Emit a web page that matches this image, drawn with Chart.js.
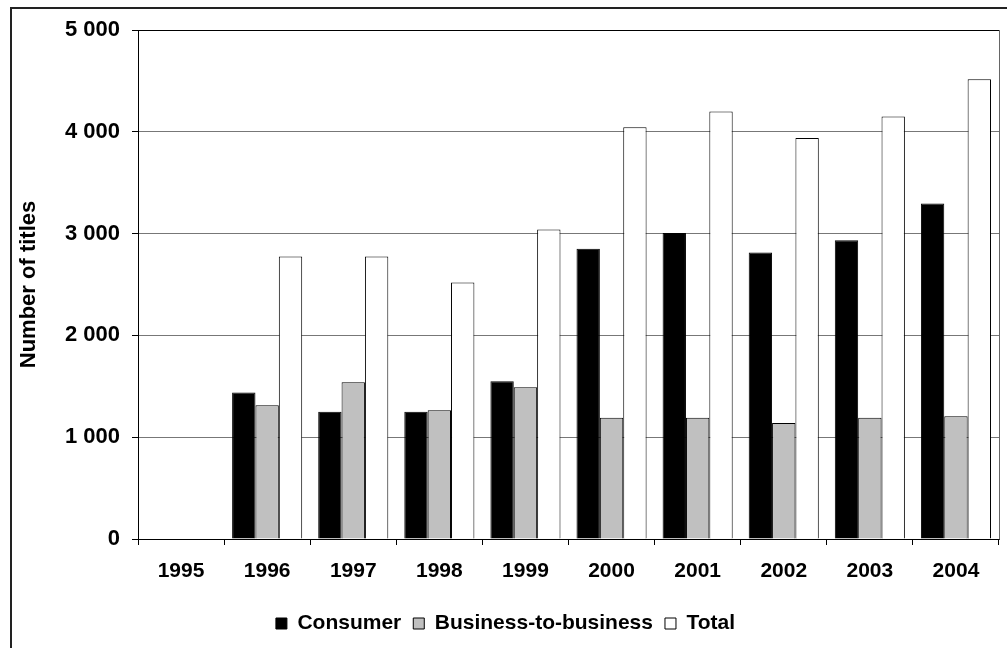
<!DOCTYPE html>
<html>
<head>
<meta charset="utf-8">
<script src="https://cdn.jsdelivr.net/npm/chart.js@4/dist/chart.umd.min.js"></script>
<style>
  body { margin: 0; background: #fff; overflow: hidden; }
  canvas { display: block; }
</style>
</head>
<body>
<canvas id="myChart" width="1007" height="648"></canvas>
<script>
const years = ['1995', '1996', '1997', '1998', '1999', '2000', '2001', '2002', '2003', '2004'];
const consumer = [null, 1440, 1250, 1250, 1550, 2850, 3005, 2815, 2935, 3295];
const business = [null, 1315, 1540, 1265, 1490, 1190, 1190, 1140, 1190, 1205];
const total = [null, 2775, 2775, 2520, 3040, 4045, 4200, 3940, 4150, 4515];
const yTicks = [0, 1000, 2000, 3000, 4000, 5000];

const fontFamily = '"Liberation Sans", Arial, sans-serif';

// outer frame of the chart and the border round the plot area
const framePlugin = {
    id: 'frame',
    afterDraw(chart) {
        const ctx = chart.ctx;
        const a = chart.chartArea;
        ctx.save();
        ctx.strokeStyle = '#222';
        ctx.lineWidth = 2;
        ctx.beginPath();
        ctx.moveTo(11, 700);
        ctx.lineTo(11, 8);
        ctx.lineTo(1100, 8);
        ctx.stroke();
        ctx.lineWidth = 1;
        ctx.strokeStyle = '#000';
        ctx.beginPath();
        ctx.moveTo(Math.round(a.left) + 0.5, Math.round(a.top) + 0.5);
        ctx.lineTo(Math.round(a.right) + 0.5, Math.round(a.top) + 0.5);
        ctx.stroke();
        ctx.strokeStyle = '#666';
        ctx.beginPath();
        ctx.moveTo(Math.round(a.right) + 0.5, Math.round(a.top) + 0.5);
        ctx.lineTo(Math.round(a.right) + 0.5, Math.round(a.bottom) + 0.5);
        ctx.stroke();
        ctx.restore();
    }
};

function drawChart() {
    const ctx = document.getElementById('myChart').getContext('2d');
    const myChart = new Chart(ctx, {
        type: 'bar',
        data: {
            labels: years,
            datasets: [{
                label: 'Consumer',
                data: consumer,
                backgroundColor: '#000000',
                borderColor: '#000000',
                borderWidth: 1
            }, {
                label: 'Business-to-business',
                data: business,
                backgroundColor: '#c0c0c0',
                borderColor: '#000000',
                borderWidth: 1
            }, {
                label: 'Total',
                data: total,
                backgroundColor: '#ffffff',
                borderColor: '#000000',
                borderWidth: 1
            }]
        },
        options: {
            responsive: false,
            animation: false,
            devicePixelRatio: 1,
            categoryPercentage: 0.814,
            barPercentage: 1,
            layout: { padding: { left: 12, top: 30, right: 8, bottom: 4 } },
            plugins: {
                tooltip: { enabled: false },
                legend: {
                    position: 'bottom',
                    labels: {
                        color: '#000',
                        font: { family: fontFamily, size: 21, weight: 'bold' },
                        boxWidth: 11,
                        boxHeight: 11,
                        padding: 12
                    }
                }
            },
            scales: {
                x: {
                    grid: {
                        display: true,
                        drawOnChartArea: false,
                        offset: true,
                        tickLength: 6,
                        color: '#000'
                    },
                    border: { color: '#000', width: 1 },
                    ticks: {
                        color: '#000',
                        font: { family: fontFamily, size: 21, weight: 'bold' },
                        padding: 14,
                        maxRotation: 0
                    },
                    afterFit(scale) { scale.height = 62; }
                },
                y: {
                    min: 0,
                    max: 5000,
                    afterBuildTicks(scale) {
                        scale.ticks = yTicks.map(v => ({ value: v }));
                    },
                    grid: {
                        color: '#777',
                        tickColor: '#000',
                        tickLength: 6
                    },
                    border: { color: '#000', width: 1 },
                    ticks: {
                        color: '#000',
                        font: { family: fontFamily, size: 22, weight: 'bold' },
                        padding: 12,
                        callback: v => String(v).replace(/\B(?=(\d{3})+(?!\d))/g, ' ')
                    },
                    title: {
                        display: true,
                        text: 'Number of titles',
                        color: '#000',
                        font: { family: fontFamily, size: 22, weight: 'bold' },
                        padding: { top: 4, bottom: 4 }
                    },
                    afterFit(scale) { scale.width = 126; }
                }
            }
        },
        plugins: [framePlugin]
    });
}

drawChart();
</script>
</body>
</html>
